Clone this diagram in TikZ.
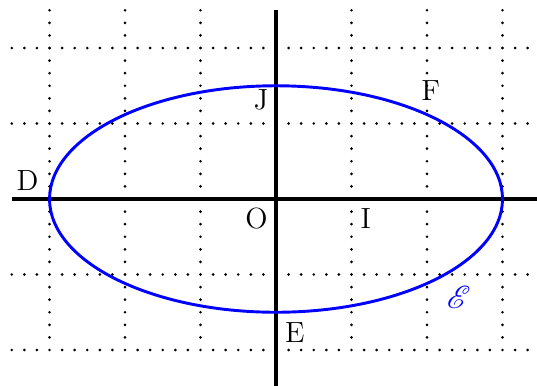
\documentclass[tikz,border=0pt]{standalone}
\usepackage{mathrsfs}
\begin{document}
\begin{tikzpicture}[x=1cm,y=1cm,
  gridline/.style={line width=1.1pt,line cap=round,dash pattern=on 0pt off 0.16667cm},
  axis/.style={line width=1.5pt},
  curve/.style={blue,line width=1.1pt},
  lbl/.style={inner sep=0pt,font=\fontsize{11}{13}\selectfont}]
\useasboundingbox (-3.656,-2.464) rectangle (3.457,2.636);
\begin{scope}
\clip (-3.656,-2.464) rectangle (3.457,2.636);
\foreach \x in {-3,-2,-1,1,2,3} \draw[gridline] (\x,2.5) -- (\x,-2);
\foreach \y in {-2,-1,1,2} \draw[gridline] (-3.5,\y) -- (3.5,\y);
\coordinate (xl) at (-3.5,0);
\coordinate (xr) at (3.6,0);
\coordinate (yt) at (0,2.5);
\coordinate (yb) at (0,-2.6);
\draw[axis] (xl) -- (xr);
\draw[axis] (yt) -- (yb);
\end{scope}
\coordinate (ctr) at (0,0);
\draw[curve] (ctr) ellipse [x radius=3,y radius=1.5];
\node[lbl] (D) at (-3.29,0.24) {D};
\node[lbl] (J) at (-0.2,1.31) {J};
\node[lbl] (F) at (2.05,1.44) {F};
\node[lbl] (O) at (-0.26,-0.26) {O};
\node[lbl] (I) at (1.19,-0.26) {I};
\node[lbl] (E) at (0.25,-1.77) {E};
\node[lbl,blue,font=\fontsize{12}{14}\selectfont] (C) at (2.42,-1.3) {$\mathscr{E}$};
\end{tikzpicture}
\end{document}
